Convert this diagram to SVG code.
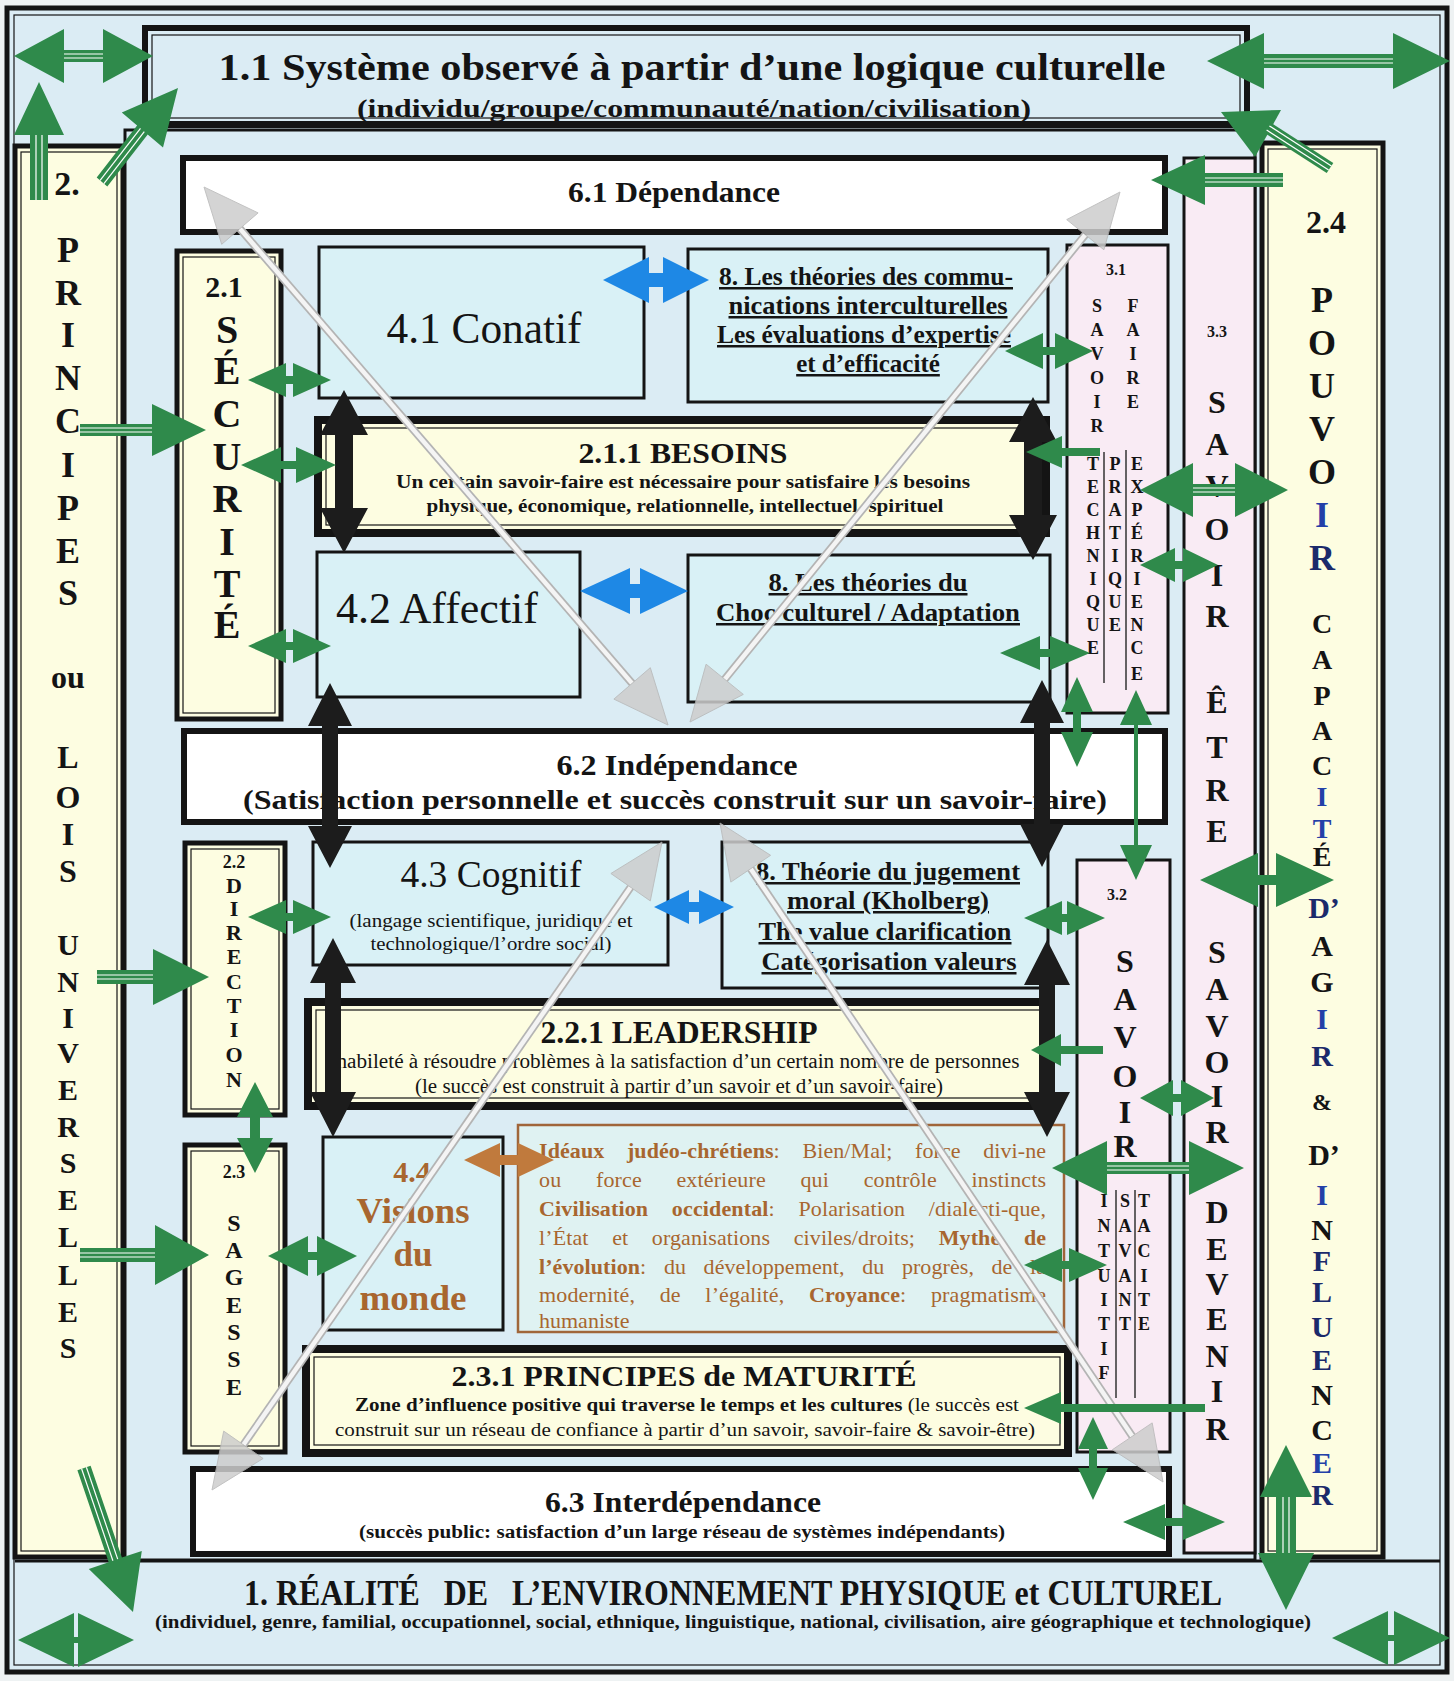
<svg xmlns="http://www.w3.org/2000/svg" width="1454" height="1681" viewBox="0 0 1454 1681">
<style>
text{font-family:"Liberation Serif","Times New Roman",serif;fill:#141414}
.b{font-weight:bold}
.m{text-anchor:middle}
.u{text-decoration:underline}
.k{stroke:#141414}
.yel{fill:#fdfde1}
.cy{fill:#d9f1f6}
.pk{fill:#f9ebf4}
.wh{fill:#ffffff}
.in{fill:none;stroke:#141414;stroke-width:1.2}
.g{fill:#2f8a4b}
.blu{fill:#1e88e5}
.blk{fill:#1c1c1c}
.brn{fill:#c07a3d}
.gs{stroke:#b4b4b4;stroke-width:8;fill:none}
.gw{stroke:#f4f4f4;stroke-width:4.5;fill:none}
.gh{fill:#cdcdcd;opacity:0.85;stroke:#b8b8b8;stroke-width:1}
.st{stroke:#ffffff;stroke-width:1.2;fill:none}
.bn{fill:#a8662f}
.nv{fill:#1b2a6b}
.bu{fill:#2340a8}
</style>

<g id="frame">
<rect x="0" y="0" width="1454" height="1681" fill="#eef2f3"/>
<rect x="7" y="8" width="1440" height="1664" fill="#dbecf4" stroke="#141414" stroke-width="5"/>
<rect x="14" y="15" width="1426" height="1650" class="in"/>
<rect x="125" y="130" width="1130" height="1430" fill="none" stroke="#141414" stroke-width="3"/>
</g>

<g id="n1">
<line x1="15" y1="1561" x2="1440" y2="1561" stroke="#141414" stroke-width="3"/>
<text class="b m" x="733" y="1605" font-size="35" textLength="978" lengthAdjust="spacingAndGlyphs" xml:space="preserve">1. RÉALITÉ   DE   L’ENVIRONNEMENT PHYSIQUE et CULTUREL</text>
<text class="b m" x="733" y="1628" font-size="18" textLength="1156" lengthAdjust="spacingAndGlyphs">(individuel, genre, familial, occupationnel, social, ethnique, linguistique, national, civilisation, aire géographique et technologique)</text>
</g>

<g id="n1-1">
<rect x="145" y="28" width="1102" height="97" fill="#dbecf4" stroke="#141414" stroke-width="6"/>
<rect x="152" y="35" width="1088" height="83" class="in"/>
<text class="b m" x="692" y="80" font-size="38" textLength="947" lengthAdjust="spacingAndGlyphs">1.1 Système observé à partir d’une logique culturelle</text>
<text class="b m" x="694" y="117" font-size="26" textLength="674" lengthAdjust="spacingAndGlyphs">(individu/groupe/communauté/nation/civilisation)</text>
<line x1="145" y1="124" x2="1247" y2="124" stroke="#141414" stroke-width="6"/>
</g>

<g id="n2">
<rect x="15" y="146" width="108" height="1411" class="yel k" stroke-width="5"/>
<rect x="21" y="152" width="96" height="1399" class="in"/>
<text class="b m" x="67" y="195" font-size="34">2.</text>
<text class="b m" font-size="36"><tspan x="68" y="262">P</tspan><tspan x="68" y="305">R</tspan><tspan x="68" y="347">I</tspan><tspan x="68" y="390">N</tspan><tspan x="68" y="433">C</tspan><tspan x="68" y="477">I</tspan><tspan x="68" y="520">P</tspan><tspan x="68" y="563">E</tspan><tspan x="68" y="605">S</tspan></text>
<text class="b m" font-size="32"><tspan x="68" y="688">ou</tspan><tspan x="68" y="768">L</tspan><tspan x="68" y="808">O</tspan><tspan x="68" y="845">I</tspan><tspan x="68" y="882">S</tspan></text>
<text class="b m" font-size="30"><tspan x="68" y="955">U</tspan><tspan x="68" y="992">N</tspan><tspan x="68" y="1028">I</tspan><tspan x="68" y="1063">V</tspan><tspan x="68" y="1100">E</tspan><tspan x="68" y="1137">R</tspan><tspan x="68" y="1173">S</tspan><tspan x="68" y="1210">E</tspan><tspan x="68" y="1247">L</tspan><tspan x="68" y="1285">L</tspan><tspan x="68" y="1322">E</tspan><tspan x="68" y="1358">S</tspan></text>
</g>

<g id="n6-1">
<rect x="183" y="158" width="982" height="74" class="wh k" stroke-width="6"/>
<text class="b m" x="674" y="202" font-size="30" textLength="212" lengthAdjust="spacingAndGlyphs">6.1 Dépendance</text>
</g>

<g id="n2-1">
<rect x="177" y="251" width="104" height="468" class="yel k" stroke-width="5"/>
<rect x="183" y="257" width="92" height="456" class="in"/>
<text class="b m" x="224" y="297" font-size="30">2.1</text>
<text class="b m" font-size="40"><tspan x="227" y="343">S</tspan><tspan x="227" y="384">É</tspan><tspan x="227" y="427">C</tspan><tspan x="227" y="470">U</tspan><tspan x="227" y="512">R</tspan><tspan x="227" y="555">I</tspan><tspan x="227" y="597">T</tspan><tspan x="227" y="638">É</tspan></text>
</g>

<g id="n4-1">
<rect x="319" y="247" width="325" height="151" class="cy k" stroke-width="3"/>
<text class="m" x="484" y="343" font-size="44" textLength="195" lengthAdjust="spacingAndGlyphs">4.1 Conatif</text>
</g>

<g id="n8-comm">
<rect x="688" y="249" width="360" height="153" class="cy k" stroke-width="3"/>
<text class="b m u" x="866" y="285" font-size="25" textLength="294" lengthAdjust="spacingAndGlyphs">8. Les théories des commu-</text>
<text class="b m u" x="868" y="314" font-size="25" textLength="279" lengthAdjust="spacingAndGlyphs">nications interculturelles</text>
<text class="b m u" x="864" y="343" font-size="25" textLength="294" lengthAdjust="spacingAndGlyphs">Les évaluations d’expertise</text>
<text class="b m u" x="868" y="372" font-size="25">et d’efficacité</text>
</g>

<g id="n2-1-1">
<rect x="318" y="420" width="728" height="113" class="yel k" stroke-width="8"/>
<rect x="326" y="428" width="712" height="97" class="in"/>
<text class="b m" x="683" y="463" font-size="30" textLength="209" lengthAdjust="spacingAndGlyphs">2.1.1 BESOINS</text>
<text class="b m" x="683" y="488" font-size="18" textLength="574" lengthAdjust="spacingAndGlyphs">Un certain savoir-faire est nécessaire pour satisfaire les besoins</text>
<text class="b m" x="685" y="512" font-size="18" textLength="517" lengthAdjust="spacingAndGlyphs">physique, économique, relationnelle, intellectuel, spirituel</text>
</g>

<g id="n4-2">
<rect x="317" y="552" width="263" height="145" class="cy k" stroke-width="3"/>
<text class="m" x="437" y="623" font-size="44" textLength="202" lengthAdjust="spacingAndGlyphs">4.2 Affectif</text>
</g>

<g id="n8-choc">
<rect x="688" y="555" width="362" height="147" class="cy k" stroke-width="3"/>
<text class="b m u" x="868" y="591" font-size="25" textLength="199" lengthAdjust="spacingAndGlyphs">8. Les théories du</text>
<text class="b m u" x="868" y="621" font-size="25" textLength="304" lengthAdjust="spacingAndGlyphs">Choc culturel / Adaptation</text>
</g>

<g id="n3-1">
<rect x="1067" y="245" width="101" height="468" class="pk k" stroke-width="3"/>
<text class="b m" x="1116" y="275" font-size="16">3.1</text>
<text class="b m" font-size="18"><tspan x="1097" y="312">S</tspan><tspan x="1097" y="336">A</tspan><tspan x="1097" y="360">V</tspan><tspan x="1097" y="384">O</tspan><tspan x="1097" y="408">I</tspan><tspan x="1097" y="432">R</tspan><tspan x="1133" y="312">F</tspan><tspan x="1133" y="336">A</tspan><tspan x="1133" y="360">I</tspan><tspan x="1133" y="384">R</tspan><tspan x="1133" y="408">E</tspan></text>
<text class="b m" font-size="18"><tspan x="1093" y="470">T</tspan><tspan x="1093" y="493">E</tspan><tspan x="1093" y="516">C</tspan><tspan x="1093" y="539">H</tspan><tspan x="1093" y="562">N</tspan><tspan x="1093" y="585">I</tspan><tspan x="1093" y="608">Q</tspan><tspan x="1093" y="631">U</tspan><tspan x="1093" y="654">E</tspan><tspan x="1115" y="470">P</tspan><tspan x="1115" y="493">R</tspan><tspan x="1115" y="516">A</tspan><tspan x="1115" y="539">T</tspan><tspan x="1115" y="562">I</tspan><tspan x="1115" y="585">Q</tspan><tspan x="1115" y="608">U</tspan><tspan x="1115" y="631">E</tspan><tspan x="1137" y="470">E</tspan><tspan x="1137" y="493">X</tspan><tspan x="1137" y="516">P</tspan><tspan x="1137" y="539">É</tspan><tspan x="1137" y="562">R</tspan><tspan x="1137" y="585">I</tspan><tspan x="1137" y="608">E</tspan><tspan x="1137" y="631">N</tspan><tspan x="1137" y="654">C</tspan><tspan x="1137" y="680">E</tspan></text>
<line x1="1104" y1="452" x2="1104" y2="683" stroke="#333" stroke-width="1.5"/>
<line x1="1126" y1="450" x2="1126" y2="690" stroke="#333" stroke-width="1.5"/>
</g>

<g id="n6-2">
<rect x="184" y="731" width="981" height="91" class="wh k" stroke-width="6"/>
<text class="b m" x="677" y="775" font-size="29" textLength="241" lengthAdjust="spacingAndGlyphs">6.2 Indépendance</text>
<text class="b m" x="675" y="809" font-size="28" textLength="864" lengthAdjust="spacingAndGlyphs">(Satisfaction personnelle et succès construit sur un savoir-faire)</text>
</g>

<g id="n2-2">
<rect x="185" y="843" width="100" height="272" class="yel k" stroke-width="5"/>
<rect x="191" y="849" width="88" height="260" class="in"/>
<text class="b m" x="234" y="868" font-size="18">2.2</text>
<text class="b m" font-size="22"><tspan x="234" y="893">D</tspan><tspan x="234" y="916">I</tspan><tspan x="234" y="940">R</tspan><tspan x="234" y="964">E</tspan><tspan x="234" y="989">C</tspan><tspan x="234" y="1013">T</tspan><tspan x="234" y="1037">I</tspan><tspan x="234" y="1062">O</tspan><tspan x="234" y="1087">N</tspan></text>
</g>

<g id="n4-3">
<rect x="313" y="842" width="355" height="123" class="cy k" stroke-width="3"/>
<text class="m" x="491" y="887" font-size="38" textLength="181" lengthAdjust="spacingAndGlyphs">4.3 Cognitif</text>
<text class="m" x="491" y="927" font-size="19" textLength="283" lengthAdjust="spacingAndGlyphs">(langage scientifique, juridique et</text>
<text class="m" x="491" y="950" font-size="19" textLength="241" lengthAdjust="spacingAndGlyphs">technologique/l’ordre social)</text>
</g>

<g id="n8-theorie">
<rect x="722" y="842" width="326" height="146" class="cy k" stroke-width="3"/>
<text class="b m u" x="888" y="880" font-size="25" textLength="264" lengthAdjust="spacingAndGlyphs">8. Théorie du jugement</text>
<text class="b m u" x="888" y="909" font-size="25" textLength="202" lengthAdjust="spacingAndGlyphs">moral (Kholberg)</text>
<text class="b m u" x="885" y="940" font-size="25" textLength="253" lengthAdjust="spacingAndGlyphs">The value clarification</text>
<text class="b m u" x="889" y="970" font-size="25" textLength="255" lengthAdjust="spacingAndGlyphs">Catégorisation valeurs</text>
</g>

<g id="n3-2">
<rect x="1077" y="860" width="93" height="592" class="pk k" stroke-width="3"/>
<text class="b m" x="1117" y="900" font-size="16">3.2</text>
<text class="b m" font-size="32"><tspan x="1125" y="972">S</tspan><tspan x="1125" y="1010">A</tspan><tspan x="1125" y="1048">V</tspan><tspan x="1125" y="1087">O</tspan><tspan x="1125" y="1123">I</tspan><tspan x="1125" y="1157">R</tspan></text>
<text class="b m" font-size="18"><tspan x="1104" y="1207">I</tspan><tspan x="1104" y="1232">N</tspan><tspan x="1104" y="1257">T</tspan><tspan x="1104" y="1282">U</tspan><tspan x="1104" y="1306">I</tspan><tspan x="1104" y="1330">T</tspan><tspan x="1104" y="1355">I</tspan><tspan x="1104" y="1379">F</tspan><tspan x="1125" y="1207">S</tspan><tspan x="1125" y="1232">A</tspan><tspan x="1125" y="1257">V</tspan><tspan x="1125" y="1282">A</tspan><tspan x="1125" y="1306">N</tspan><tspan x="1125" y="1330">T</tspan><tspan x="1144" y="1207">T</tspan><tspan x="1144" y="1232">A</tspan><tspan x="1144" y="1257">C</tspan><tspan x="1144" y="1282">I</tspan><tspan x="1144" y="1306">T</tspan><tspan x="1144" y="1330">E</tspan></text>
<line x1="1116" y1="1190" x2="1116" y2="1398" stroke="#333" stroke-width="1.5"/>
<line x1="1135" y1="1190" x2="1135" y2="1398" stroke="#333" stroke-width="1.5"/>
</g>

<g id="n2-2-1">
<rect x="308" y="1002" width="741" height="104" class="yel k" stroke-width="8"/>
<rect x="316" y="1010" width="725" height="88" class="in"/>
<text class="b m" x="679" y="1043" font-size="32" textLength="277" lengthAdjust="spacingAndGlyphs">2.2.1 LEADERSHIP</text>
<text class="m" x="678" y="1068" font-size="20" textLength="683" lengthAdjust="spacingAndGlyphs">habileté à résoudre problèmes à la satisfaction d’un certain nombre de personnes</text>
<text class="m" x="679" y="1093" font-size="20" textLength="528" lengthAdjust="spacingAndGlyphs">(le succès est construit à partir d’un savoir et d’un savoir-faire)</text>
</g>

<g id="n2-3">
<rect x="185" y="1145" width="100" height="307" class="yel k" stroke-width="5"/>
<rect x="191" y="1151" width="88" height="295" class="in"/>
<text class="b m" x="234" y="1178" font-size="18">2.3</text>
<text class="b m" font-size="24"><tspan x="234" y="1231">S</tspan><tspan x="234" y="1258">A</tspan><tspan x="234" y="1285">G</tspan><tspan x="234" y="1313">E</tspan><tspan x="234" y="1340">S</tspan><tspan x="234" y="1367">S</tspan><tspan x="234" y="1395">E</tspan></text>
</g>

<g id="n4-4">
<rect x="323" y="1137" width="180" height="193" class="cy k" stroke-width="3"/>
<text class="b m bn" x="412" y="1182" font-size="30">4.4</text>
<text class="b m bn" x="413" y="1223" font-size="35" textLength="113" lengthAdjust="spacingAndGlyphs">Visions</text>
<text class="b m bn" x="413" y="1266" font-size="35">du</text>
<text class="b m bn" x="413" y="1310" font-size="35" textLength="107" lengthAdjust="spacingAndGlyphs">monde</text>
</g>

<g id="n-ideaux">
<rect x="518" y="1125" width="546" height="207" fill="#dff2f2" stroke="#a0653a" stroke-width="2.5"/>
<text class="bn" x="539" y="1158" font-size="22" word-spacing="17" textLength="507" lengthAdjust="spacing"><tspan class="b bn">Idéaux judéo-chrétiens</tspan>: Bien/Mal; force divi-ne</text>
<text class="bn" x="539" y="1187" font-size="22" word-spacing="29" textLength="507" lengthAdjust="spacing">ou force extérieure qui contrôle instincts</text>
<text class="bn" x="539" y="1216" font-size="22" word-spacing="18" textLength="507" lengthAdjust="spacing"><tspan class="b bn">Civilisation occidental</tspan>: Polarisation /dialecti-que,</text>
<text class="bn" x="539" y="1245" font-size="22" word-spacing="18" textLength="507" lengthAdjust="spacing">l’État et organisations civiles/droits; <tspan class="b bn">Mythe de</tspan></text>
<text class="bn" x="539" y="1274" font-size="22" word-spacing="12" textLength="507" lengthAdjust="spacing"><tspan class="b bn">l’évolution</tspan>: du développement, du progrès, de la</text>
<text class="bn" x="539" y="1302" font-size="22" word-spacing="19" textLength="507" lengthAdjust="spacing">modernité, de l’égalité, <tspan class="b bn">Croyance</tspan>: pragmatisme</text>
<text class="bn" x="539" y="1328" font-size="22">humaniste</text>
</g>

<g id="n2-3-1">
<rect x="306" y="1349" width="762" height="104" class="yel k" stroke-width="8"/>
<rect x="314" y="1357" width="746" height="88" class="in"/>
<text class="b m" x="684" y="1386" font-size="30" textLength="465" lengthAdjust="spacingAndGlyphs">2.3.1 PRINCIPES de MATURITÉ</text>
<text class="m" x="687" y="1411" font-size="18" textLength="664" lengthAdjust="spacingAndGlyphs"><tspan class="b">Zone d’influence positive qui traverse le temps et les cultures</tspan> (le succès est</text>
<text class="m" x="685" y="1436" font-size="18" textLength="700" lengthAdjust="spacingAndGlyphs">construit sur un réseau de confiance à partir d’un savoir, savoir-faire &amp; savoir-être)</text>
</g>

<g id="n6-3">
<rect x="193" y="1469" width="976" height="85" class="wh k" stroke-width="6"/>
<text class="b m" x="683" y="1512" font-size="30" textLength="276" lengthAdjust="spacingAndGlyphs">6.3 Interdépendance</text>
<text class="b m" x="682" y="1538" font-size="18" textLength="646" lengthAdjust="spacingAndGlyphs">(succès public: satisfaction d’un large réseau de systèmes indépendants)</text>
</g>

<g id="n3-3">
<rect x="1184" y="158" width="71" height="1395" class="pk k" stroke-width="3"/>
<text class="b m" x="1217" y="337" font-size="16">3.3</text>
<text class="b m" font-size="32"><tspan x="1217" y="413">S</tspan><tspan x="1217" y="455">A</tspan><tspan x="1217" y="497">V</tspan><tspan x="1217" y="540">O</tspan><tspan x="1217" y="586">I</tspan><tspan x="1217" y="627">R</tspan><tspan x="1217" y="713">Ê</tspan><tspan x="1217" y="758">T</tspan><tspan x="1217" y="801">R</tspan><tspan x="1217" y="842">E</tspan><tspan x="1217" y="963">S</tspan><tspan x="1217" y="1000">A</tspan><tspan x="1217" y="1037">V</tspan><tspan x="1217" y="1073">O</tspan><tspan x="1217" y="1107">I</tspan><tspan x="1217" y="1143">R</tspan><tspan x="1217" y="1223">D</tspan><tspan x="1217" y="1260">E</tspan><tspan x="1217" y="1295">V</tspan><tspan x="1217" y="1330">E</tspan><tspan x="1217" y="1367">N</tspan><tspan x="1217" y="1402">I</tspan><tspan x="1217" y="1440">R</tspan></text>
</g>

<g id="n2-4">
<rect x="1262" y="143" width="121" height="1414" class="yel k" stroke-width="5"/>
<rect x="1268" y="149" width="109" height="1402" class="in"/>
<text class="b m" x="1326" y="233" font-size="32">2.4</text>
<text class="b m" font-size="36"><tspan x="1322" y="312">P</tspan><tspan x="1322" y="355">O</tspan><tspan x="1322" y="398">U</tspan><tspan x="1322" y="441">V</tspan><tspan x="1322" y="484">O</tspan><tspan x="1322" y="527" class="bu">I</tspan><tspan x="1322" y="570" class="nv">R</tspan></text>
<text class="b m" font-size="28"><tspan x="1322" y="633">C</tspan><tspan x="1322" y="669">A</tspan><tspan x="1322" y="705">P</tspan><tspan x="1322" y="740">A</tspan><tspan x="1322" y="775">C</tspan><tspan x="1322" y="806" class="bu">I</tspan><tspan x="1322" y="838" class="bu">T</tspan><tspan x="1322" y="866">É</tspan></text>
<text class="b m" font-size="30"><tspan x="1324" y="918" class="nv">D’</tspan><tspan x="1322" y="956">A</tspan><tspan x="1322" y="992">G</tspan><tspan x="1322" y="1029" class="bu">I</tspan><tspan x="1322" y="1066" class="nv">R</tspan><tspan x="1322" y="1110" font-size="24">&amp;</tspan><tspan x="1324" y="1165">D’</tspan><tspan x="1322" y="1205" class="bu">I</tspan><tspan x="1322" y="1240">N</tspan><tspan x="1322" y="1271" class="nv">F</tspan><tspan x="1322" y="1302" class="nv">L</tspan><tspan x="1322" y="1337" class="nv">U</tspan><tspan x="1322" y="1370" class="nv">E</tspan><tspan x="1322" y="1405">N</tspan><tspan x="1322" y="1440">C</tspan><tspan x="1322" y="1473" class="bu">E</tspan><tspan x="1322" y="1505" class="nv">R</tspan></text>
</g>

<g id="connectors">
<g id="gray-arrows">
<line class="gs" x1="239.9" y1="228.6" x2="632.1" y2="683.4"/><line class="gw" x1="239.9" y1="228.6" x2="632.1" y2="683.4"/>
<polygon class="gh" points="204,187 221.7,244.3 258.1,212.9"/><polygon class="gh" points="668,725 613.9,699.1 650.3,667.7"/>
<line class="gs" x1="1085.3" y1="234.7" x2="724.7" y2="679.3"/><line class="gw" x1="1085.3" y1="234.7" x2="724.7" y2="679.3"/>
<polygon class="gh" points="1120,192 1103.9,249.8 1066.7,219.6"/><polygon class="gh" points="690,722 743.3,694.4 706.1,664.2"/>
<line class="gs" x1="630.6" y1="887.2" x2="243.4" y2="1444.8"/><line class="gw" x1="630.6" y1="887.2" x2="243.4" y2="1444.8"/>
<polygon class="gh" points="662,842 650.3,900.9 610.9,873.5"/><polygon class="gh" points="212,1490 263.1,1458.5 223.7,1431.1"/>
<line class="gs" x1="750.7" y1="868.7" x2="1132.3" y2="1436.3"/><line class="gw" x1="750.7" y1="868.7" x2="1132.3" y2="1436.3"/>
<polygon class="gh" points="720,823 730.8,882.1 770.6,855.3"/><polygon class="gh" points="1163,1482 1112.4,1449.7 1152.2,1422.9"/>
</g>

<g id="black-arrows" class="blk">
<polygon points="344,390 368,435 353,435 353,508 368,508 344,553 320,508 335,508 335,435 320,435"/>
<polygon points="1033,397 1057,442 1042,442 1042,515 1057,515 1033,560 1009,515 1024,515 1024,442 1009,442"/>
<polygon points="330,683 352,726 338,726 338,826 352,826 330,868 308,826 322,826 322,726 308,726"/>
<polygon points="1042,680 1064,723 1050,723 1050,824 1064,824 1042,867 1020,824 1034,824 1034,723 1020,723"/>
<polygon points="333,938 356,983 341,983 341,1092 356,1092 333,1137 310,1092 325,1092 325,983 310,983"/>
<polygon points="1047,940 1070,985 1055,985 1055,1092 1070,1092 1047,1137 1024,1092 1039,1092 1039,985 1024,985"/>
</g>

<g id="blue-arrows" class="blu">
<polygon points="603,280 649,257 649,273 663,273 663,257 709,280 663,303 663,287 649,287 649,303"/>
<polygon points="580,591 630,568 630,584 640,584 640,568 688,591 640,614 640,598 630,598 630,614"/>
<polygon points="654,907 689,890 689,902 699,902 699,890 734,907 699,924 699,912 689,912 689,924"/>
</g>

<polygon class="brn" points="464,1160 500,1143 500,1155 518,1155 518,1143 554,1160 518,1177 518,1165 500,1165 500,1177"/>

<g id="green-arrows" class="g">
<polygon points="14,56 64,29 64,50 103,50 103,29 153,56 103,83 103,62 64,62 64,83"/>
<polygon points="39,82 64,135 48,135 48,200 30,200 30,135 14,135"/>
<polygon points="178,88 163,147.5 147.7,134.5 107.3,186.5 96.7,177.5 137.1,125.5 121.8,112.5"/>
<polygon points="1207,61 1264,33 1264,54 1393,54 1393,33 1450,61 1393,89 1393,68 1264,68 1264,89"/>
<polygon points="1333.3,163 1271.3,123 1264.7,133 1326.7,173"/>
<polygon points="1221,112 1281,110 1255,157"/>
<polygon points="1151,180 1205,155 1205,173 1283,173 1283,187 1205,187 1205,205"/>
<polygon points="206,430 152,456 152,436 80,436 80,424 152,424 152,404"/>
<polygon points="209,977 153,1005 153,984 97,984 97,970 153,970 153,949"/>
<polygon points="209,1255 155,1285 155,1262 80,1262 80,1248 155,1248 155,1225"/>
<polygon points="133,1612 141.8,1550.9 121.9,1557.6 90.6,1465.7 77.4,1470.3 108.7,1562.2 88.8,1568.9"/>
<polygon points="18,1640 74,1613 74,1637 78,1637 78,1613 134,1640 78,1667 78,1643 74,1643 74,1667"/>
<polygon points="1332,1638 1388,1611 1388,1635 1394,1635 1394,1611 1450,1638 1394,1665 1394,1641 1388,1641 1388,1665"/>
<polygon points="1286,1445 1312,1497 1296,1497 1296,1553 1314,1553 1286,1610 1258,1553 1276,1553 1276,1497 1260,1497"/>
<polygon points="1140,490 1193,463 1193,484 1235,484 1235,463 1288,490 1235,517 1235,496 1193,496 1193,517"/>
<polygon points="1200,880 1258,853 1258,875 1276,875 1276,853 1334,880 1276,907 1276,885 1258,885 1258,907"/>
<polygon points="1052,1168 1107,1141 1107,1162 1189,1162 1189,1141 1244,1168 1189,1195 1189,1174 1107,1174 1107,1195"/>
<polygon points="1140,1098 1173,1080 1173,1094 1181,1094 1181,1080 1214,1098 1181,1116 1181,1102 1173,1102 1173,1116"/>
<polygon points="1140,565 1175,548 1175,561 1183,561 1183,548 1218,565 1183,582 1183,569 1175,569 1175,582"/>
<polygon points="1005,351 1043,333 1043,347 1055,347 1055,333 1093,351 1055,369 1055,355 1043,355 1043,369"/>
<polygon points="1026,452 1062,436 1062,448 1100,448 1100,456 1062,456 1062,468"/>
<polygon points="1000,653 1040,636 1040,649 1050,649 1050,636 1090,653 1050,670 1050,657 1040,657 1040,670"/>
<polygon points="1077,677 1093,712 1081,712 1081,732 1093,732 1077,767 1061,732 1073,732 1073,712 1061,712"/>
<polygon points="1136,690 1152,725 1138,725 1138,845 1152,845 1136,880 1120,845 1134,845 1134,725 1120,725"/>
<polygon points="1024,918 1062,901 1062,914 1067,914 1067,901 1105,918 1067,935 1067,922 1062,922 1062,935"/>
<polygon points="1031,1050 1061,1034 1061,1046 1103,1046 1103,1054 1061,1054 1061,1066"/>
<polygon points="1024,1265 1062,1248 1062,1261 1069,1261 1069,1248 1107,1265 1069,1282 1069,1269 1062,1269 1062,1282"/>
<polygon points="1024,1408 1061,1392 1061,1404 1205,1404 1205,1412 1061,1412 1061,1424"/>
<polygon points="1093,1417 1108,1449 1097,1449 1097,1468 1108,1468 1093,1500 1078,1468 1089,1468 1089,1449 1078,1449"/>
<polygon points="1123,1522 1165,1504 1165,1518 1183,1518 1183,1504 1225,1522 1183,1540 1183,1526 1165,1526 1165,1540"/>
<polygon points="248,380 286,363 286,376 293,376 293,363 331,380 293,397 293,384 286,384 286,397"/>
<polygon points="241,465 281,447 281,461 296,461 296,447 336,465 296,483 296,469 281,469 281,483"/>
<polygon points="248,646 286,629 286,642 293,642 293,629 331,646 293,663 293,650 286,650 286,663"/>
<polygon points="248,917 286,900 286,913 293,913 293,900 331,917 293,934 293,921 286,921 286,934"/>
<polygon points="255,1082 273,1117 260,1117 260,1138 273,1138 255,1173 237,1138 250,1138 250,1117 237,1117"/>
<polygon points="268,1256 308,1236 308,1252 317,1252 317,1236 357,1256 317,1276 317,1260 308,1260 308,1276"/>
</g>

<g id="shaft-stripes">
<line class="st" x1="64" y1="54" x2="103" y2="54"/><line class="st" x1="64" y1="58" x2="103" y2="58"/>
<line class="st" x1="36" y1="135" x2="36" y2="200"/><line class="st" x1="42" y1="135" x2="42" y2="200"/>
<line class="st" x1="103.9" y1="183.6" x2="144.3" y2="131.6"/><line class="st" x1="100.1" y1="180.4" x2="140.5" y2="128.4"/>
<line class="st" x1="1264" y1="59" x2="1393" y2="59"/><line class="st" x1="1264" y1="63" x2="1393" y2="63"/>
<line class="st" x1="1331.4" y1="165.9" x2="1269.4" y2="125.9"/><line class="st" x1="1328.6" y1="170.1" x2="1266.6" y2="130.1"/>
<line class="st" x1="1205" y1="178" x2="1283" y2="178"/><line class="st" x1="1205" y1="182" x2="1283" y2="182"/>
<line class="st" x1="80" y1="428" x2="152" y2="428"/><line class="st" x1="80" y1="432" x2="152" y2="432"/>
<line class="st" x1="97" y1="975" x2="153" y2="975"/><line class="st" x1="97" y1="979" x2="153" y2="979"/>
<line class="st" x1="80" y1="1253" x2="155" y2="1253"/><line class="st" x1="80" y1="1257" x2="155" y2="1257"/>
<line class="st" x1="86.4" y1="1467.2" x2="117.7" y2="1559.1"/><line class="st" x1="81.6" y1="1468.8" x2="112.9" y2="1560.7"/>
<line class="st" x1="1283" y1="1497" x2="1283" y2="1553"/><line class="st" x1="1289" y1="1497" x2="1289" y2="1553"/>
<line class="st" x1="1193" y1="488" x2="1235" y2="488"/><line class="st" x1="1193" y1="492" x2="1235" y2="492"/>
<line class="st" x1="1107" y1="1166" x2="1189" y2="1166"/><line class="st" x1="1107" y1="1170" x2="1189" y2="1170"/>
</g>
</g>
</svg>
